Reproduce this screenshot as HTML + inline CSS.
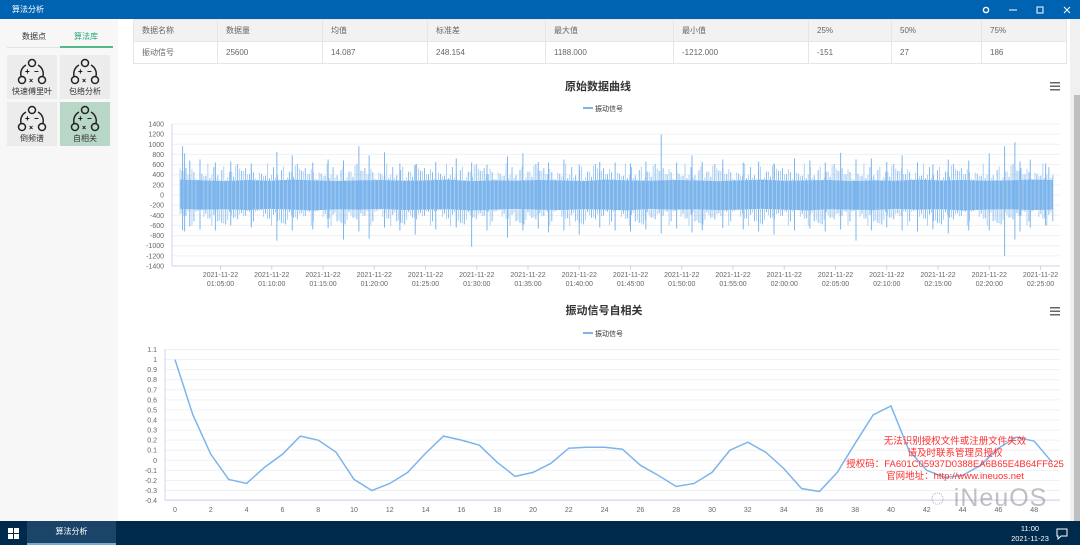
<!DOCTYPE html>
<html><head><meta charset="utf-8">
<style>
*{margin:0;padding:0;box-sizing:border-box}
body{width:1080px;height:545px;overflow:hidden;background:#f0f0f0;font-family:"Liberation Sans","Noto Sans CJK SC",sans-serif;position:relative}
.abs{position:absolute}
.titlebar{left:0;top:0;width:1080px;height:19px;background:#0063b1;color:#fff;font-size:8px}
.left{left:0;top:19px;width:118px;height:502px;background:#f7f7f7}
.main{left:118px;top:19px;width:952px;height:502px;background:#fff}
.tile{width:50px;height:44px;background:#ececec;font-size:8px;color:#333;text-align:center}
table{border-collapse:collapse;font-size:8px;color:#666}
td{border:1px solid #e6e6e6;padding-left:8px;height:22px}
.hdr td{background:#f2f2f2}
.taskbar{left:0;top:521px;width:1080px;height:24px;background:#002a4c}
.wm{color:#ff2d2d;font-size:9.5px;text-align:center;width:240px;line-height:11.7px}
</style></head><body>
<div class="abs titlebar">
 <span class="abs" style="left:12px;top:4px">算法分析</span>
 <svg class="abs" style="left:980px;top:4px" width="100" height="12">
  <circle cx="6" cy="6" r="2.6" fill="none" stroke="#fff" stroke-width="1.4"/>
  <line x1="29" y1="6" x2="37" y2="6" stroke="#fff"/>
  <rect x="57" y="3" width="6" height="6" fill="none" stroke="#fff"/>
  <path d="M84 3l6 6M90 3l-6 6" stroke="#fff"/>
 </svg>
</div>
<div class="abs left">
 <div class="abs" style="left:22px;top:12px;font-size:8px;color:#333">数据点</div>
 <div class="abs" style="left:74px;top:12px;font-size:8px;color:#2aa57a">算法库</div>
 <div class="abs" style="left:7px;top:28px;width:106px;height:1px;background:#e2e2e2"></div>
 <div class="abs" style="left:60px;top:27px;width:53px;height:2px;background:#55b88d"></div>
 <div id="tiles"></div>
</div>
<div class="abs main">
 <table class="abs" style="left:15px;top:0;width:934px">
  <tr class="hdr"><td style="width:84px">数据名称</td><td style="width:105px">数据量</td><td style="width:105px">均值</td><td style="width:118px">标准差</td><td style="width:128px">最大值</td><td style="width:135px">最小值</td><td style="width:83px">25%</td><td style="width:90px">50%</td><td>75%</td></tr>
  <tr><td>振动信号</td><td>25600</td><td>14.087</td><td>248.154</td><td>1188.000</td><td>-1212.000</td><td>-151</td><td>27</td><td>186</td></tr>
 </table>
</div>
<div class="abs" style="left:1070px;top:19px;width:10px;height:502px;background:#f0f0f0"><div class="abs" style="left:4px;top:76px;width:6px;height:426px;background:#bfbfbf"></div></div>
<svg class="abs" style="left:0;top:0" width="1080" height="545" id="charts">
 <text x="598" y="90" font-size="11" font-weight="bold" fill="#333" text-anchor="middle">原始数据曲线</text>
 <g><rect x="1050" y="82" width="10" height="1.5" fill="#666"/><rect x="1050" y="85.5" width="10" height="1.5" fill="#666"/><rect x="1050" y="89" width="10" height="1.5" fill="#666"/></g>
 <g><line x1="583" y1="108" x2="593" y2="108" stroke="#7cb5ec" stroke-width="2"/><text x="595" y="111" font-size="7" fill="#333">振动信号</text></g>
 <g id="rawChart"></g>
 <text x="604" y="314" font-size="11" font-weight="bold" fill="#333" text-anchor="middle">振动信号自相关</text>
 <g><rect x="1050" y="307" width="10" height="1.5" fill="#666"/><rect x="1050" y="310.5" width="10" height="1.5" fill="#666"/><rect x="1050" y="314" width="10" height="1.5" fill="#666"/></g>
 <g><line x1="583" y1="333" x2="593" y2="333" stroke="#7cb5ec" stroke-width="2"/><text x="595" y="336" font-size="7" fill="#333">振动信号</text></g>
 <g id="acfChart"></g>
</svg>
<div class="abs wm" style="left:835px;top:436px">无法识别授权文件或注册文件失效<br>请及时联系管理员授权<br>授权码：FA601C05937D0388EA6B65E4B64FF625<br>官网地址：http://www.ineuos.net</div>
<div class="abs" style="left:930px;top:484px;font-size:25px;color:rgba(150,150,150,0.6);letter-spacing:1px">◌ iNeuOS</div>
<div class="abs taskbar">
 <svg class="abs" style="left:8px;top:7px" width="11" height="11"><rect x="0" y="0" width="5" height="5" fill="#fff"/><rect x="6" y="0" width="5" height="5" fill="#fff"/><rect x="0" y="6" width="5" height="5" fill="#fff"/><rect x="6" y="6" width="5" height="5" fill="#fff"/></svg>
 <div class="abs" style="left:27px;top:0;width:89px;height:24px;background:#1a4568;border-bottom:2px solid #7aa8d0;color:#fff;font-size:8px;text-align:center;line-height:22px">算法分析</div>
 <div class="abs" style="left:1010px;top:3px;width:40px;color:#fff;font-size:7.5px;text-align:center;line-height:10px">11:00<br>2021-11-23</div>
 <svg class="abs" style="left:1055px;top:6px" width="14" height="13"><path d="M2 2h10v7h-6l-3 3v-3h-1z" fill="none" stroke="#fff"/></svg>
</div>
<script>
const tileNames=['快速傅里叶','包络分析','倒频谱','自相关'];
const tilesEl=document.getElementById('tiles');
tileNames.forEach((n,i)=>{
 const d=document.createElement('div');
 d.className='abs tile';
 d.style.left=(i%2?60:7)+'px';d.style.top=(i<2?36:83)+'px';
 if(i===3)d.style.background='#b9d7c6';
 d.innerHTML='<svg width="30" height="28" style="margin-top:3px"><circle cx="15" cy="5" r="3.5" fill="none" stroke="#222" stroke-width="1.5"/><circle cx="5" cy="22" r="3.5" fill="none" stroke="#222" stroke-width="1.5"/><circle cx="25" cy="22" r="3.5" fill="none" stroke="#222" stroke-width="1.5"/><path d="M9 7a10 10 0 0 0-5 11M21 7a10 10 0 0 1 5 11" fill="none" stroke="#222" stroke-width="1.5"/><text x="8" y="16" font-size="8" font-weight="bold">+</text><text x="17" y="16" font-size="8" font-weight="bold">−</text><text x="12" y="25" font-size="7" font-weight="bold">×</text></svg><div style="margin-top:-2px">'+n+'</div>';
 
 
 tilesEl.appendChild(d);
});
const NS='http://www.w3.org/2000/svg';
function el(tag,attrs,parent){const e=document.createElementNS(NS,tag);for(const k in attrs)e.setAttribute(k,attrs[k]);parent.appendChild(e);return e;}

const rawYTicks=[-1400,-1200,-1000,-800,-600,-400,-200,0,200,400,600,800,1000,1200,1400];
const rawXTickMinutes=[5,10,15,20,25,30,35,40,45,50,55,60,65,70,75,80,85];
const rawXTickLabels=['01:05:00','01:10:00','01:15:00','01:20:00','01:25:00','01:30:00','01:35:00','01:40:00','01:45:00','01:50:00','01:55:00','02:00:00','02:05:00','02:10:00','02:15:00','02:20:00','02:25:00'];
const rawCoreHigh=[420,400,380,410,390,420,400,380,400,410,390,400,420,380,400,390,410,400,380,420,400,390,410,400,380,400,420,390,400,410,380,400,390,420,400,410,390,400,420,410];
const rawCoreLow=[-380,-400,-390,-410,-380,-400,-420,-390,-400,-380,-410,-400,-390,-420,-400,-380,-400,-410,-390,-400,-420,-380,-400,-390,-410,-400,-380,-400,-420,-390,-400,-410,-380,-400,-390,-420,-400,-390,-410,-400];
const traceHigh=[520,380,460,300,560,410,340,480,620,360,440,290,510,390,470,330,580,420,350,450,300,530,400,610,370,460,320,490,410,550];
const traceLow=[-450,-330,-520,-380,-290,-560,-410,-470,-340,-600,-390,-440,-310,-500,-360,-430,-580,-320,-460,-400,-520,-350,-480,-300,-550,-420,-370,-490,-330,-610];
const spikeMinutes=[1.3,1.5,2,3,4.5,6,8,10.5,12,14,15.5,17,18.5,19.5,21,22.5,24,26,28,29.5,31,33,34.5,36,37,38.5,40,42,43.5,45,46.5,48,49.5,51,52,54,56,57.5,59,61,62.5,64,65.5,67,68.5,70,71.5,73,74.5,76,78,80,81.5,82.5,83,84,85.5];
const spikeHigh=[960,820,680,700,640,660,620,850,780,640,700,680,960,780,840,620,600,650,720,640,600,760,820,650,640,700,600,650,640,620,660,1190,640,780,650,700,640,660,620,720,680,640,830,700,720,650,780,640,600,700,680,820,960,1040,660,700,620];
const spikeLow=[-700,-720,-620,-680,-700,-600,-640,-900,-700,-680,-650,-880,-720,-860,-640,-700,-780,-680,-640,-1020,-700,-840,-700,-660,-740,-700,-780,-640,-700,-720,-680,-760,-660,-740,-700,-650,-680,-720,-780,-700,-660,-720,-680,-900,-700,-640,-700,-720,-680,-760,-700,-700,-1200,-880,-720,-640,-600];
const rawStart=1.05,rawEnd=86.2;
(function(){
 const g=document.getElementById('rawChart');
 const x0=172,x1=1060,yTop=124,yBot=266;
 const sx=t=>220.5+(t-5)*10.25;
 const sy=v=>195-(v/1400)*71;
 rawYTicks.forEach(v=>{
  const l=el('line',{x1:x0,x2:x1,y1:sy(v),y2:sy(v),stroke:'#eef0f4','stroke-width':1},g);
  
  
  const t=el('text',{x:x0-8,y:sy(v)+2.5,'font-size':7,fill:'#666','text-anchor':'end'},g);t.textContent=v;
  
  
 });
 el('line',{x1:x0,x2:x0,y1:yTop,y2:yBot,stroke:'#ccd6eb'},g);
 el('line',{x1:x0,x2:x1,y1:yBot,y2:yBot,stroke:'#ccd6eb'},g);
 rawXTickMinutes.forEach((m,i)=>{
  const x=sx(m);
  el('line',{x1:x,x2:x,y1:yBot,y2:yBot+4,stroke:'#ccd6eb'},g);
  const t=el('text',{x:x,y:yBot+11,'font-size':7,fill:'#666','text-anchor':'middle'},g);
  t.textContent='2021-11-22';
  
  
  const t2=el('text',{x:x,y:yBot+20,'font-size':7,fill:'#666','text-anchor':'middle'},g);
  t2.textContent=rawXTickLabels[i];
  
  
 });
 const n=rawCoreHigh.length;
 let pts=[];
 for(let i=0;i<n;i++){const t=rawStart+(rawEnd-rawStart)*i/(n-1);pts.push(sx(t)+','+sy(rawCoreHigh[i]*0.72));}
 for(let i=n-1;i>=0;i--){const t=rawStart+(rawEnd-rawStart)*i/(n-1);pts.push(sx(t)+','+sy(rawCoreLow[i]*0.72));}
 const band=el('polygon',{points:pts.join(' '),fill:'#7cb5ec'},g);
 
 
 const m=traceHigh.length, N=440;
 for(let i=0;i<N;i++){
  const t=rawStart+(rawEnd-rawStart)*i/(N-1);
  const h=traceHigh[(i*7)%m], lo=traceLow[(i*11+3)%m];
  const l=el('line',{x1:sx(t),x2:sx(t),y1:sy(h),y2:sy(lo),stroke:i%2?'#7cb5ec':'#a9cef2','stroke-width':0.9},g);
  
  
 }
 spikeMinutes.forEach((mm,i)=>{
  const l=el('line',{x1:sx(mm),x2:sx(mm),y1:sy(spikeHigh[i]),y2:sy(spikeLow[i]),stroke:'#7cb5ec','stroke-width':1},g);
  
  
 });
})();

const acfLags=[0,1,2,3,4,5,6,7,8,9,10,11,12,13,14,15,16,17,18,19,20,21,22,23,24,25,26,27,28,29,30,31,32,33,34,35,36,37,38,39,40,41,42,43,44,45,46,47,48,49];
const acfValues=[1,0.45,0.06,-0.19,-0.23,-0.07,0.06,0.24,0.2,0.08,-0.19,-0.3,-0.23,-0.12,0.07,0.24,0.2,0.15,-0.02,-0.16,-0.12,-0.03,0.12,0.13,0.13,0.11,-0.05,-0.15,-0.26,-0.23,-0.12,0.1,0.18,0.08,-0.08,-0.28,-0.31,-0.12,0.17,0.45,0.54,0.1,-0.1,-0.17,-0.15,-0.05,0.12,0.23,0.19,-0.02];
const acfYTicks=[-0.4,-0.3,-0.2,-0.1,0,0.1,0.2,0.3,0.4,0.5,0.6,0.7,0.8,0.9,1,1.1];
const acfXTicks=[0,2,4,6,8,10,12,14,16,18,20,22,24,26,28,30,32,34,36,38,40,42,44,46,48];
(function(){
 const g=document.getElementById('acfChart');
 const x0=165,x1=1060,yBot=500;
 const sx=v=>175+v*17.9;
 const sy=v=>460.3-v*100.7;
 acfYTicks.forEach(v=>{
  const l=el('line',{x1:x0,x2:x1,y1:sy(v),y2:sy(v),stroke:'#eef0f4'},g);
  
  
  const t=el('text',{x:x0-8,y:sy(v)+2.5,'font-size':7,fill:'#666','text-anchor':'end'},g);
  t.textContent=Math.round(v*10)/10;
  
  
 });
 el('line',{x1:x0,x2:x0,y1:sy(1.1),y2:yBot,stroke:'#ccd6eb'},g);
 el('line',{x1:x0,x2:x1,y1:yBot,y2:yBot,stroke:'#ccd6eb'},g);
 acfXTicks.forEach(v=>{
  const t=el('text',{x:sx(v),y:yBot+12,'font-size':7,fill:'#666','text-anchor':'middle'},g);
  t.textContent=v;
  
  
 });
 const p=el('polyline',{points:acfLags.map((l,i)=>sx(l)+','+sy(acfValues[i])).join(' '),fill:'none',stroke:'#7cb5ec','stroke-width':1.5},g);
 
 
})();
</script>
</body></html>
